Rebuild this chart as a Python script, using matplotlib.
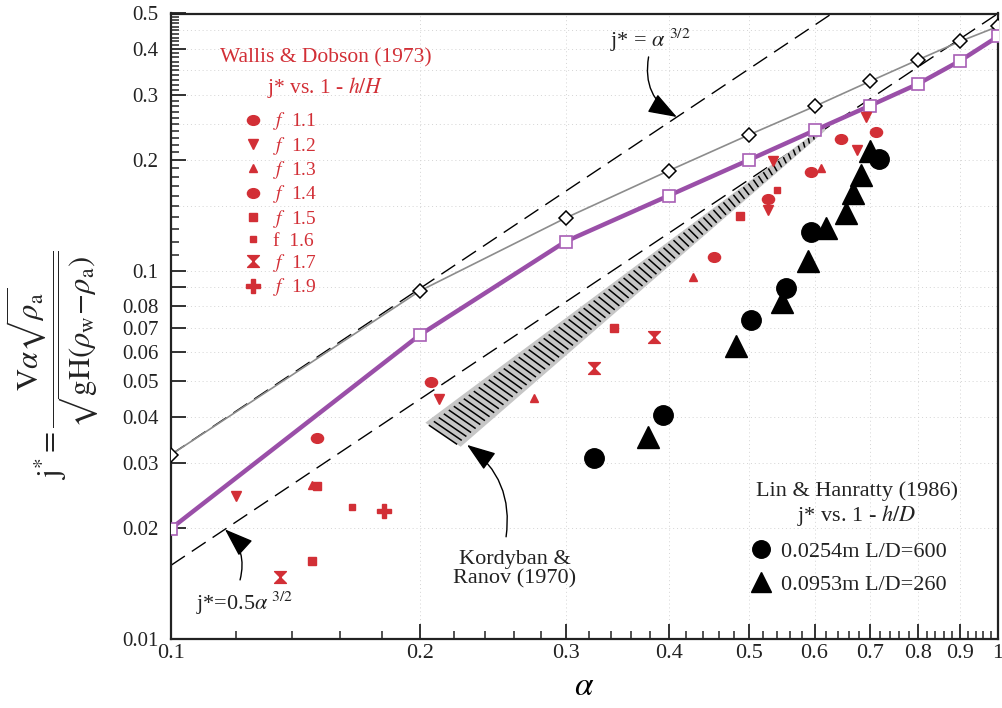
import numpy as np
import matplotlib
matplotlib.use('Agg')
import matplotlib.pyplot as plt
from matplotlib.path import Path
from matplotlib.markers import MarkerStyle
from matplotlib.transforms import Affine2D
from matplotlib.patches import Polygon

plt.rcParams['font.family'] = ['Liberation Serif', 'DejaVu Serif']
plt.rcParams['mathtext.fontset'] = 'stix'

# ---------------- data ----------------
alpha_grid = [0.1, 0.2, 0.3, 0.4, 0.5, 0.6, 0.7, 0.8, 0.9, 1.0]
j_diamond = [0.0316, 0.0881, 0.139, 0.187, 0.234, 0.2795, 0.327, 0.374, 0.420, 0.461]
j_square = [0.0199, 0.0669, 0.120, 0.160, 0.200, 0.2405, 0.2807, 0.3216, 0.372, 0.433]

# Wallis & Dobson (1973)
f11_a = [0.206, 0.453, 0.5935, 0.712]
f11_j = [0.0499, 0.1092, 0.185, 0.238]
f12_a = [0.120, 0.211, 0.5276, 0.535, 0.676, 0.692]
f12_j = [0.0244, 0.0447, 0.1463, 0.198, 0.213, 0.2615]
f13_a = [0.148, 0.275, 0.428, 0.6105]
f13_j = [0.02615, 0.045, 0.0958, 0.190]
f14_a = [0.1503, 0.5276, 0.6454]
f14_j = [0.0350, 0.1568, 0.228]
f15_a = [0.150, 0.148, 0.3436, 0.487]
f15_j = [0.0260, 0.01625, 0.0698, 0.141]
f16_a = [0.1654, 0.540]
f16_j = [0.02274, 0.1659]
f17_a = [0.1354, 0.3247, 0.384]
f17_j = [0.01467, 0.0545, 0.0659]
f19_a = [0.181]
f19_j = [0.02222]

# Lin & Hanratty (1986)
lh1_a = [0.325, 0.394, 0.5027, 0.554, 0.594, 0.718]
lh1_j = [0.0309, 0.0405, 0.0735, 0.0896, 0.1277, 0.201]
lh2_a = [0.377, 0.4828, 0.5487, 0.5888, 0.619, 0.655, 0.667, 0.683, 0.700]
lh2_j = [0.0354, 0.0622, 0.0824, 0.1059, 0.1305, 0.1433, 0.1625, 0.182, 0.211]

# Kordyban & Ranov (1970) band (top edge, then bottom edge)
band_top_a = [0.203, 0.618]
band_top_j = [0.0386, 0.249]
band_bot_a = [0.224, 0.618]
band_bot_j = [0.0332, 0.240]

x_ticks = [0.1, 0.2, 0.3, 0.4, 0.5, 0.6, 0.7, 0.8, 0.9, 1.0]
x_ticklabels = ['0.1', '0.2', '0.3', '0.4', '0.5', '0.6', '0.7', '0.8', '0.9', '1']
y_ticks = [0.01, 0.02, 0.03, 0.04, 0.05, 0.06, 0.07, 0.08, 0.09, 0.1, 0.2, 0.3, 0.4, 0.5]
y_ticklabels = ['0.01', '0.02', '0.03', '0.04', '0.05', '0.06', '0.07', '0.08', '',
                '0.1', '0.2', '0.3', '0.4', '0.5']
grid_y = [0.02, 0.03, 0.04, 0.05, 0.06, 0.07, 0.08, 0.09, 0.1, 0.15, 0.2, 0.25, 0.3,
          0.35, 0.4, 0.45]

RED = '#d22f36'
PURPLE = '#9a4fa8'

fig = plt.figure(figsize=(10.03, 7.08), dpi=100)
ax = fig.add_axes([171/1003, 1-638.5/708, 827/1003, 625/708])
ax.set_xscale('log')
ax.set_yscale('log')
ax.set_xlim(0.1, 1.0)
ax.set_ylim(0.01, 0.5)

# grid
for g in grid_y:
    ax.axhline(g, color='#d4d4d4', lw=0.7, ls=(0, (1, 3)), zorder=0)
for g in x_ticks[1:-1]:
    ax.axvline(g, color='#d4d4d4', lw=0.7, ls=(0, (1, 3)), zorder=0)

# reference lines
a_line = np.logspace(-1, 0, 200)
ax.plot(a_line, a_line**1.5, color='k', lw=1.0, ls=(0, (12, 6)), zorder=2)
ax.plot(a_line, 0.5*a_line**1.5, color='k', lw=1.0, ls=(0, (12, 6)), zorder=2)

# Kordyban band
verts = list(zip(band_top_a, band_top_j)) + list(zip(band_bot_a[::-1], band_bot_j[::-1]))
ax.add_patch(Polygon(verts, closed=True, facecolor='#c6c6c6', edgecolor='none', zorder=3))
lta = np.log10(band_top_a); ltj = np.log10(band_top_j)
lba = np.log10(band_bot_a); lbj = np.log10(band_bot_j)
for t in np.linspace(0.0, 0.97, 78):
    pa = lta[0] + t*(lta[1]-lta[0]); pj = ltj[0] + t*(ltj[1]-ltj[0])
    qa = lba[0] + t*(lba[1]-lba[0]); qj = lbj[0] + t*(lbj[1]-lbj[0])
    s0, s1 = 0.1, 0.9
    xa = [10**(pa + s0*(qa-pa)), 10**(pa + s1*(qa-pa))]
    xj = [10**(pj + s0*(qj-pj)), 10**(pj + s1*(qj-pj))]
    ax.plot(xa, xj, color='k', lw=1.1, zorder=3.5, solid_capstyle='butt')

# curves
ax.plot(alpha_grid, j_diamond, color='#8c8c8c', lw=1.2, marker='D', ms=7,
        mfc='white', mec='k', mew=1.1, zorder=4)
ax.plot(alpha_grid, j_square, color=PURPLE, lw=3.2, marker='s', ms=8.5,
        mfc='white', mec='#a85fb5', mew=1.2, zorder=5)

ellipse = MarkerStyle('o', transform=Affine2D().scale(1.25, 1.0))
hourglass = Path([(-1, 1), (1, 1), (-1, -1), (1, -1), (-1, 1)],
                 [Path.MOVETO, Path.LINETO, Path.LINETO, Path.LINETO, Path.CLOSEPOLY])

kw = dict(ls='none', color=RED, zorder=6)
h11, = ax.plot(f11_a, f11_j, marker=ellipse, ms=7, label=r'$f$  1.1', **kw)
h12, = ax.plot(f12_a, f12_j, marker='v', ms=6.5, label=r'$f$  1.2', **kw)
h13, = ax.plot(f13_a, f13_j, marker='^', ms=6, label=r'$f$  1.3', **kw)
h14, = ax.plot(f14_a, f14_j, marker=ellipse, ms=7, label=r'$f$  1.4', **kw)
h15, = ax.plot(f15_a, f15_j, marker='s', ms=6, label=r'$f$  1.5', **kw)
h16, = ax.plot(f16_a, f16_j, marker='s', ms=5, label='f  1.6', **kw)
h17, = ax.plot(f17_a, f17_j, marker=hourglass, ms=8.5, label=r'$f$  1.7', **kw)
h19, = ax.plot(f19_a, f19_j, marker='P', ms=9.5, label=r'$f$  1.9', **kw)

kb = dict(ls='none', color='k', zorder=6)
g1, = ax.plot(lh1_a, lh1_j, marker='o', ms=14, label='0.0254m L/D=600', **kb)
g2, = ax.plot(lh2_a, lh2_j, marker='^', ms=16, label='0.0953m L/D=260', **kb)

# legends
ax.text(0.187, 0.903, 'Wallis & Dobson (1973)\nj* vs. 1 - $\\mathit{h/H}$', transform=ax.transAxes,
        ha='center', va='center', multialignment='center', color=RED, fontsize=15.5,
        linespacing=1.45)
leg1 = ax.legend(handles=[h11, h12, h13, h14, h15, h16, h17, h19], loc='upper left',
                 bbox_to_anchor=(0.088, 0.845), frameon=False, fontsize=14,
                 handlelength=1.0, handletextpad=0.5, labelspacing=0.12, borderpad=0,
                 borderaxespad=0, labelcolor=RED)
ax.add_artist(leg1)
ax.text(0.8295, 0.214, 'Lin & Hanratty (1986)\nj* vs. 1 - $\\mathit{h/D}$', transform=ax.transAxes,
        ha='center', va='center', multialignment='center', color='#222222', fontsize=16,
        linespacing=1.1)
ax.legend(handles=[g1, g2], loc='upper left', bbox_to_anchor=(0.7, 0.155), frameon=False,
          fontsize=16, handlelength=1.0, handletextpad=0.4, labelspacing=0.55, borderpad=0,
          borderaxespad=0, labelcolor='#222222', markerscale=0.9)

# annotations
arrow = dict(arrowstyle='-|>,head_length=0.9,head_width=0.32', color='k', lw=1.0,
             mutation_scale=20, shrinkA=0, shrinkB=0)
a1 = 0.409
ax.annotate('', xy=(a1, a1**1.5), xytext=(0.378, 0.381),
            arrowprops=dict(connectionstyle='arc3,rad=0.35', **arrow), zorder=7)
ax.text(0.38, 0.424, 'j* = $\\alpha^{\\ 3/2}$', ha='center', va='center', fontsize=16,
        color='#222222')
a2 = 0.1162
ax.annotate('', xy=(a2, 0.5*a2**1.5), xytext=(0.1212, 0.01443),
            arrowprops=dict(connectionstyle='arc3,rad=0.3', **arrow), zorder=7)
ax.text(0.1229, 0.0125, 'j*=0.5$\\alpha^{\\ 3/2}$', ha='center', va='center', fontsize=16,
        color='#222222')
ax.annotate('', xy=(0.228, 0.0336), xytext=(0.2542, 0.0189),
            arrowprops=dict(connectionstyle='arc3,rad=0.3', **arrow), zorder=7)
ax.text(0.2606, 0.01545, 'Kordyban &\nRanov (1970)', ha='center', va='center', fontsize=16,
        color='#222222', multialignment='center', linespacing=1.05)

# ticks
ax.set_xticks(x_ticks)
ax.set_xticklabels(x_ticklabels)
ax.set_xticks([k*0.02 for k in range(6, 50) if k % 5 != 0], minor=True)
ax.set_yticks(y_ticks)
ax.set_yticklabels(y_ticklabels)
ax.set_yticks([k*0.01 for k in range(11, 50) if k % 10 != 0], minor=True)
ax.yaxis.set_minor_formatter(matplotlib.ticker.NullFormatter())
ax.xaxis.set_minor_formatter(matplotlib.ticker.NullFormatter())
ax.tick_params(which='both', direction='in', top=False, right=False, colors='#222222')
ax.tick_params(which='major', length=11, width=1.3)
ax.tick_params(which='minor', length=6, width=1.1)
ax.tick_params(axis='x', which='major', labelsize=16, pad=4)
ax.tick_params(axis='y', which='major', labelsize=15, pad=9)

for s in ax.spines.values():
    s.set_linewidth(1.6)
    s.set_color('#222222')

ax.set_xlabel(r'$\alpha$', fontsize=24, labelpad=6)
fig.text(52/1003, 1-365/708,
         r'$\mathrm{j}^{*}=\dfrac{\mathrm{V}\alpha\sqrt{\rho_{\mathrm{a}}}}{\sqrt{\mathrm{gH}(\rho_{\mathrm{w}}\!-\!\rho_{\mathrm{a}})}}$',
         rotation=90, ha='center', va='center', fontsize=22, color='#222222')

fig.savefig('out.png', dpi=100)
